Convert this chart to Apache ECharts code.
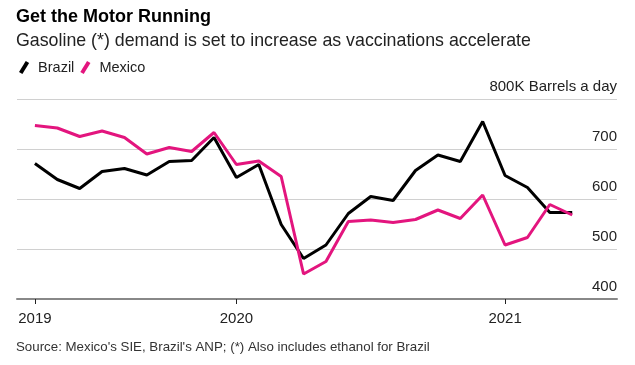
<!DOCTYPE html>
<html><head><meta charset="utf-8">
<script src="https://cdn.jsdelivr.net/npm/echarts@6/dist/echarts.min.js"></script>
<style>html,body{margin:0;padding:0;background:#fff}#c{width:635px;height:365px}</style>
</head><body><div id="c"></div>
<script>
// Monthly observations (index = month step from first point)
const periodIndex = [0,1,2,3,4,5,6,7,8,9,10,11,12,13,14,15,16,17,18,19,20,21,22,23,24];
const brazil = [671,639,621,655,661,648,675,677,723,643,669,549,481,508,571,605,597,657,688,675,755,647,623,573,573];
const mexico = [747,742,725,736,723,690,703,695,733,669,676,645,450,475,555,558,553,559,578,561,608,508,523,589,568];
const yearTickIndex = [0, 9, 21];
const yearTickLabels = ['2019', '2020', '2021'];

const FONT = 'Liberation Sans, Arial, sans-serif';
const chart = echarts.init(document.getElementById('c'), null, {renderer: 'canvas'});
chart.setOption({
  animation: false,
  backgroundColor: '#fff',
  title: [
    {text: 'Get the Motor Running', left: 11, top: 3,
     textStyle: {fontFamily: FONT, fontWeight: 'bold', fontSize: 18, color: '#000'}},
    {text: 'Gasoline (*) demand is set to increase as vaccinations accelerate', left: 11, top: 27,
     textStyle: {fontFamily: FONT, fontWeight: 'normal', fontSize: 17.8, color: '#222'}},
    {text: "Source: Mexico's SIE, Brazil's ANP; (*) Also includes ethanol for Brazil", left: 11, top: 336,
     textStyle: {fontFamily: FONT, fontWeight: 'normal', fontSize: 13.3, color: '#333'}}
  ],
  legend: {
    left: 14, top: 55, itemGap: 6, itemWidth: 18, itemHeight: 13,
    icon: 'path://M0,13 L8,0 L12,2.4 L4,15.4 Z',
    textStyle: {fontFamily: FONT, fontSize: 14.5, color: '#222'},
    data: ['Brazil', 'Mexico']
  },
  grid: {left: 17, right: 18, top: 99, bottom: 66, containLabel: false},
  xAxis: {
    type: 'value', min: -0.8, max: 26,
    axisLine: {show: true, lineStyle: {color: '#888', width: 2}},
    axisTick: {show: true, customValues: yearTickIndex, length: 5, inside: false, lineStyle: {color: '#222', width: 1}},
    splitLine: {show: false},
    axisLabel: {customValues: yearTickIndex, margin: 12, fontFamily: FONT, fontSize: 15, color: '#222',
      formatter: v => yearTickLabels[yearTickIndex.indexOf(Math.round(v))] || ''}
  },
  yAxis: {
    type: 'value', position: 'right', min: 400, max: 800, interval: 100,
    axisLine: {show: false}, axisTick: {show: false},
    splitLine: {show: true, lineStyle: {color: '#d0d0d0', width: 1}},
    axisLabel: {inside: true, margin: 0, verticalAlign: 'bottom', align: 'right', padding: [0, 0, 5, 0],
      fontFamily: FONT, fontSize: 15, color: '#222',
      formatter: v => v === 800 ? '800K Barrels a day' : String(v)}
  },
  series: [
    {name: 'Brazil', type: 'line', data: periodIndex.map((i, k) => [i, brazil[k]]),
     showSymbol: false, lineStyle: {color: '#000', width: 3}, itemStyle: {color: '#000'}},
    {name: 'Mexico', type: 'line', data: periodIndex.map((i, k) => [i, mexico[k]]),
     showSymbol: false, lineStyle: {color: '#e3157e', width: 3}, itemStyle: {color: '#e3157e'}}
  ]
});
</script></body></html>
